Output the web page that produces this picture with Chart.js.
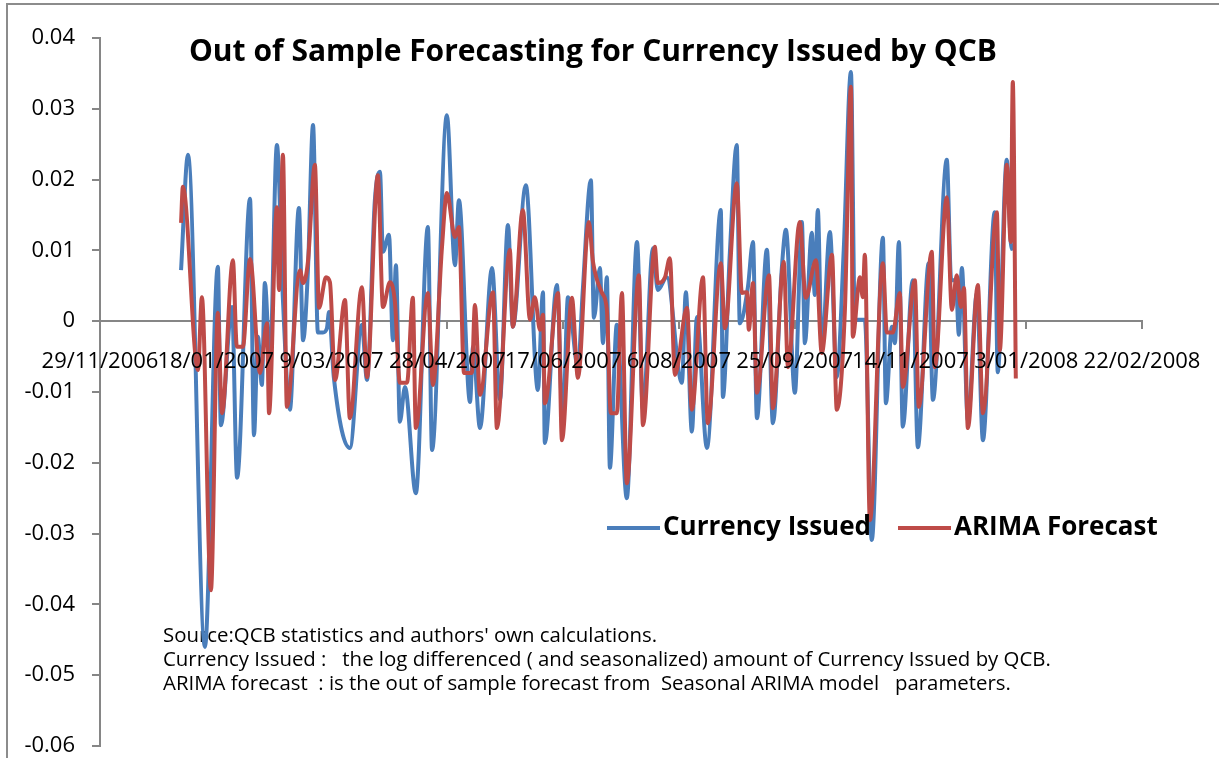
<!DOCTYPE html>
<html>
<head>
<meta charset="utf-8">
<script src="https://cdn.jsdelivr.net/npm/chart.js@4.4.0/dist/chart.umd.min.js"></script>
<style>
  html, body { margin: 0; padding: 0; background: #fff; }
  #wrap { width: 1219px; height: 758px; }
</style>
</head>
<body>
<div id="wrap"><canvas id="chart" width="1219" height="758"></canvas></div>
<script>
// days counted from 29/11/2006
const tickLabels = ['29/11/2006', '18/01/2007', '9/03/2007', '28/04/2007', '17/06/2007',
  '6/08/2007', '25/09/2007', '14/11/2007', '3/01/2008', '22/02/2008'];

const blueDays = [35.0, 38.0, 45.3, 50.9, 52.2, 57.0, 59.2, 64.8, 66.5, 68.2, 69.9, 71.2, 73.4, 76.4,
  79.0, 82.0, 85.9, 87.7, 89.8, 92.0, 94.1, 96.3, 98.0, 98.9, 101.0, 107.9, 113.1, 115.3, 118.7, 120.9,
  122.2, 124.8, 126.5, 127.8, 129.5, 131.7, 136.4, 141.6, 143.4, 149.8, 153.3, 155.0, 159.8, 161.1,
  164.1, 169.3, 172.7, 176.2, 178.3, 183.9, 189.1, 191.3, 192.1, 197.3, 199.9, 202.1, 206.4, 208.5,
  212.0, 213.3, 215.9, 217.2, 218.9, 220.2, 223.2, 227.5, 231.9, 234.5, 238.8, 240.9, 244.8, 251.3,
  253.0, 255.6, 257.8, 262.1, 268.1, 269.0, 272.0, 275.0, 276.3, 279.8, 282.0, 283.7, 288.0, 290.6,
  294.5, 296.2, 300.1, 303.1, 304.4, 307.4, 308.7, 310.0, 311.7, 315.2, 318.2, 321.2, 324.3, 326.0,
  330.3, 333.3, 338.1, 339.4, 342.0, 343.3, 345.0, 346.7, 351.0, 353.2, 357.9, 359.7, 365.7, 367.6,
  369.6, 370.9, 372.2, 374.8, 378.7, 381.3, 386.4, 387.7, 391.6, 393.3, 394.2];
const blueValues = [0.0072, 0.0235, -0.0460, 0.0077, -0.0147, 0.0020, -0.0221, 0.0173, -0.0161, -0.0022,
  -0.0090, 0.0054, -0.0055, 0.0249, 0.0030, -0.0125, 0.0160, -0.0027, 0.0072, 0.0277, -0.0016, -0.0016,
  -0.0010, 0.0013, -0.0080, -0.0179, -0.0005, -0.0083, 0.0171, 0.0211, 0.0098, 0.0122, -0.0027, 0.0079,
  -0.0142, -0.0093, -0.0243, 0.0133, -0.0182, 0.0291, 0.0079, 0.0171, -0.0114, -0.0036, -0.0151, 0.0075,
  -0.0111, 0.0136, -0.0008, 0.0192, -0.0097, 0.0041, -0.0172, 0.0051, -0.0144, 0.0034, -0.0065, 0.0044,
  0.0199, 0.0005, 0.0075, -0.0031, 0.0062, -0.0207, -0.0005, -0.0250, 0.0112, -0.0125, 0.0103, 0.0044,
  0.0062, -0.0087, 0.0041, -0.0156, 0.0006, -0.0179, 0.0157, -0.0107, 0.0096, 0.0249, -0.0003, 0.0048,
  0.0112, -0.0137, 0.0101, -0.0144, 0.0077, 0.0129, -0.0101, 0.0140, -0.0031, 0.0125, 0.0037, 0.0157,
  -0.0041, 0.0126, -0.0079, 0.0101, 0.0352, 0.0002, 0.0002, -0.0309, 0.0118, -0.0116, -0.0008, -0.0031,
  0.0112, -0.0149, 0.0058, -0.0178, 0.0082, -0.0111, 0.0228, 0.0058, 0.0058, -0.0019, 0.0075, -0.0140,
  0.0040, -0.0168, 0.0154, -0.0072, 0.0228, 0.0112, 0.0100];

const redDays = [35.0, 35.8, 42.3, 44.0, 47.9, 50.9, 52.7, 57.4, 59.1, 61.7, 64.8, 69.1, 72.1, 73.0,
  76.4, 77.3, 79.0, 80.7, 86.4, 87.7, 89.8, 92.8, 94.6, 97.6, 99.3, 101.5, 105.8, 107.9, 113.1, 115.3,
  120.0, 122.2, 125.2, 127.4, 129.5, 132.6, 135.1, 136.4, 141.6, 143.8, 147.7, 149.8, 153.3, 155.0,
  157.2, 160.6, 161.9, 164.1, 169.7, 171.4, 177.0, 178.3, 182.6, 185.7, 187.8, 190.0, 191.3, 192.1,
  197.8, 199.5, 203.8, 206.4, 211.1, 212.9, 216.8, 218.9, 220.6, 223.2, 225.4, 227.5, 232.7, 234.5,
  239.6, 240.9, 244.0, 246.1, 248.3, 253.5, 255.6, 260.4, 262.5, 268.1, 269.9, 275.0, 277.2, 279.4,
  280.2, 282.0, 283.7, 288.9, 290.6, 295.3, 297.1, 302.2, 304.8, 309.2, 311.7, 316.1, 318.2, 321.7,
  324.3, 325.1, 328.2, 329.4, 330.3, 332.5, 338.1, 339.8, 342.4, 345.4, 346.7, 351.9, 353.6, 359.2,
  360.5, 365.7, 367.9, 370.0, 371.8, 373.1, 374.8, 379.1, 381.3, 387.3, 388.6, 391.6, 393.3, 394.2,
  395.5];
const redValues = [0.0139, 0.0190, -0.0069, 0.0034, -0.0380, 0.0012, -0.0130, 0.0086, -0.0036, -0.0036,
  0.0088, -0.0073, -0.0003, -0.0130, 0.0161, 0.0044, 0.0235, -0.0121, 0.0072, 0.0054, 0.0084, 0.0221,
  0.0019, 0.0062, 0.0055, -0.0083, 0.0030, -0.0137, 0.0048, -0.0079, 0.0206, 0.0020, 0.0055, 0.0026,
  -0.0087, -0.0087, 0.0033, -0.0151, 0.0040, -0.0090, 0.0105, 0.0181, 0.0119, 0.0133, -0.0073, -0.0073,
  0.0023, -0.0104, 0.0041, -0.0151, 0.0101, -0.0008, 0.0157, 0.0002, 0.0034, -0.0012, 0.0009, -0.0116,
  0.0040, -0.0168, 0.0033, -0.0080, 0.0140, 0.0084, 0.0040, 0.0016, -0.0130, -0.0130, 0.0040, -0.0229,
  0.0065, -0.0147, 0.0105, 0.0054, 0.0062, 0.0089, -0.0076, 0.0019, -0.0125, 0.0062, -0.0144, 0.0082,
  -0.0010, 0.0195, 0.0040, 0.0041, -0.0012, 0.0054, -0.0101, 0.0065, -0.0123, 0.0084, -0.0065, 0.0140,
  0.0033, 0.0086, -0.0045, 0.0094, -0.0125, 0.0016, 0.0331, -0.0022, 0.0062, 0.0034, 0.0094, -0.0281,
  0.0082, -0.0016, -0.0016, 0.0040, -0.0093, 0.0058, -0.0121, 0.0098, -0.0065, 0.0175, 0.0016, 0.0065,
  0.0020, 0.0047, -0.0151, 0.0051, -0.0130, 0.0154, -0.0041, 0.0221, 0.0112, 0.0338, -0.0081];

const noteLines = [
  "Source:QCB statistics and authors' own calculations.",
  'Currency Issued :   the log differenced ( and seasonalized) amount of Currency Issued by QCB.',
  'ARIMA forecast  : is the out of sample forecast from  Seasonal ARIMA model   parameters.'
];

function toPoints(days, values) {
  return days.map((d, i) => ({ x: d, y: values[i] }));
}

const FONT = '"Open Sans", "DejaVu Sans", sans-serif';
const AXIS_GREY = '#868686';

const extras = {
  id: 'extras',
  beforeDraw(chart) {
    const ctx = chart.ctx;
    ctx.save();
    ctx.fillStyle = '#fff';
    ctx.fillRect(0, 0, chart.width, chart.height);
    ctx.strokeStyle = '#8c8c8c';
    ctx.lineWidth = 2;
    ctx.beginPath();
    ctx.moveTo(7, chart.height);
    ctx.lineTo(7, 4);
    ctx.lineTo(chart.width, 4);
    ctx.stroke();
    ctx.restore();
  },
  beforeDatasetsDraw(chart) {
    const ctx = chart.ctx;
    ctx.save();
    ctx.fillStyle = '#000';
    ctx.font = '20.4px ' + FONT;
    ctx.textBaseline = 'middle';
    noteLines.forEach((t, i) => ctx.fillText(t, 163, 636 + i * 24));
    ctx.restore();
  },
  afterDatasetsDraw(chart) {
    const ctx = chart.ctx;
    ctx.save();
    ctx.fillStyle = '#000';
    ctx.textBaseline = 'middle';
    ctx.textAlign = 'center';
    ctx.font = 'bold 30px ' + FONT;
    ctx.fillText('Out of Sample Forecasting for Currency Issued by QCB', 593, 52);

    // legend inside the plot
    ctx.textAlign = 'left';
    ctx.font = 'bold 26px ' + FONT;
    const spots = [607, 898];
    chart.data.datasets.forEach((ds, i) => {
      const x = spots[i];
      ctx.strokeStyle = ds.borderColor;
      ctx.lineWidth = 4;
      ctx.beginPath();
      ctx.moveTo(x, 528);
      ctx.lineTo(x + 53, 528);
      ctx.stroke();
      ctx.fillText(ds.label, x + 56, 528);
    });
    ctx.restore();
  }
};

new Chart(document.getElementById('chart'), {
  type: 'line',
  data: {
    datasets: [{
      label: 'Currency Issued',
      data: toPoints(blueDays, blueValues),
      borderColor: '#4a7ebb',
      borderWidth: 4,
      pointRadius: 0,
      cubicInterpolationMode: 'monotone',
      order: 2
    }, {
      label: 'ARIMA Forecast',
      data: toPoints(redDays, redValues),
      borderColor: '#be4b48',
      borderWidth: 4,
      pointRadius: 0,
      cubicInterpolationMode: 'monotone',
      order: 1
    }]
  },
  options: {
    responsive: false,
    animation: false,
    layout: { padding: { top: 38, right: 77, bottom: 12, left: 0 } },
    plugins: {
      legend: { display: false },
      tooltip: { enabled: false }
    },
    scales: {
      x: {
        type: 'linear',
        position: { y: 0 },
        min: 0,
        max: 450,
        afterFit: s => { s.paddingLeft = 0; s.paddingRight = 0; },
        grid: { drawOnChartArea: false, color: AXIS_GREY, lineWidth: 2, tickLength: 7 },
        border: { color: AXIS_GREY, width: 2 },
        ticks: {
          z: 1,  // date labels sit on top of the lines
          stepSize: 50,
          autoSkip: false,
          maxRotation: 0,
          padding: 20,
          color: '#000',
          font: { family: FONT, size: 22 },
          callback: v => tickLabels[Math.round(v / 50)]
        }
      },
      y: {
        min: -0.06,
        max: 0.04,
        afterFit: s => { s.width = 100; s.paddingTop = 0; s.paddingBottom = 0; },
        grid: { drawOnChartArea: false, color: AXIS_GREY, lineWidth: 2, tickLength: 8 },
        border: { color: AXIS_GREY, width: 2 },
        ticks: {
          stepSize: 0.01,
          padding: 17,
          color: '#000',
          font: { family: FONT, size: 22 },
          callback: v => String(Number(v.toFixed(2)))
        }
      }
    }
  },
  plugins: [extras]
});
</script>
</body>
</html>
